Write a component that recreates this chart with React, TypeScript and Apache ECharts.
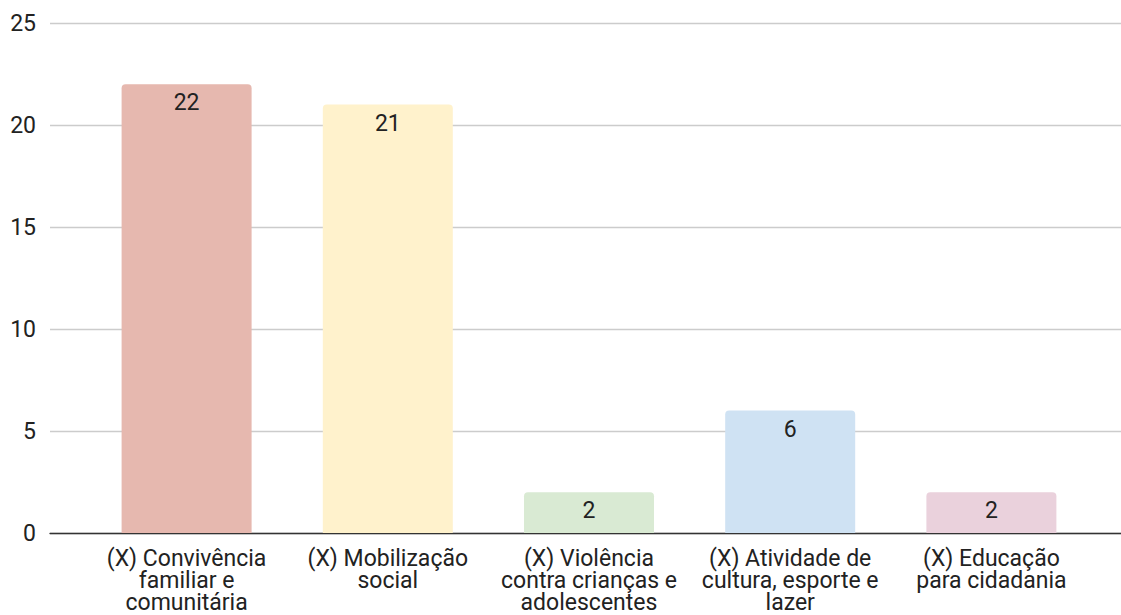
import React, { useEffect, useRef } from "react";
import * as echarts from "echarts";

const categories = [
  "(X) Convivência\nfamiliar e\ncomunitária",
  "(X) Mobilização\nsocial",
  "(X) Violência\ncontra crianças e\nadolescentes",
  "(X) Atividade de\ncultura, esporte e\nlazer",
  "(X) Educação\npara cidadania",
];
const values = [22, 21, 2, 6, 2];
const barColors = ["#e6b8af", "#fff2cc", "#d9ead3", "#cfe2f3", "#ead1dc"];
const yTicks = [0, 5, 10, 15, 20, 25];

export default function App() {
  const ref = useRef<HTMLDivElement>(null);
  useEffect(() => {
    const chart = echarts.init(ref.current!, null, { renderer: "svg" });
    const font = "Roboto, 'Liberation Sans', Arial, sans-serif";
    chart.setOption({
      animation: false,
      grid: [
        { left: 50, right: 0, top: 23, bottom: 82 },
        { left: 86, right: 29, top: 23, bottom: 82 },
      ],
      xAxis: [
        {
          type: "category",
          gridIndex: 0,
          data: categories,
          axisLine: { show: true, lineStyle: { color: "#333", width: 1.3 } },
          axisTick: { show: false },
          axisLabel: { show: false },
        },
        {
          type: "category",
          gridIndex: 1,
          data: categories,
          axisLine: { show: false },
          axisTick: { show: false },
          axisLabel: {
            interval: 0,
            color: "#222",
            fontFamily: font,
            fontSize: 23,
            lineHeight: 22,
            margin: 14,
          },
        },
      ],
      yAxis: [
        {
          type: "value",
          gridIndex: 0,
          min: yTicks[0],
          max: yTicks[yTicks.length - 1],
          interval: 5,
          axisLine: { show: false },
          axisTick: { show: false },
          splitLine: { lineStyle: { color: "#cccccc", width: 1.3 } },
          axisLabel: {
            color: "#222",
            fontFamily: font,
            fontSize: 23,
            margin: 14,
          },
        },
        {
          type: "value",
          gridIndex: 1,
          min: yTicks[0],
          max: yTicks[yTicks.length - 1],
          interval: 5,
          show: false,
          splitLine: { show: false },
        },
      ],
      series: [
        {
          type: "bar",
          xAxisIndex: 1,
          yAxisIndex: 1,
          barWidth: 130,
          data: values.map((v, i) => ({
            value: v,
            itemStyle: { color: barColors[i], borderRadius: [4, 4, 0, 0] },
          })),
          label: {
            show: true,
            position: "insideTop",
            distance: 7,
            color: "#222",
            fontFamily: font,
            fontSize: 23,
          },
        },
      ],
    });
    return () => chart.dispose();
  }, []);
  return <div ref={ref} style={{ width: 1121, height: 615, position: "absolute", left: 0, top: 0 }} />;
}
